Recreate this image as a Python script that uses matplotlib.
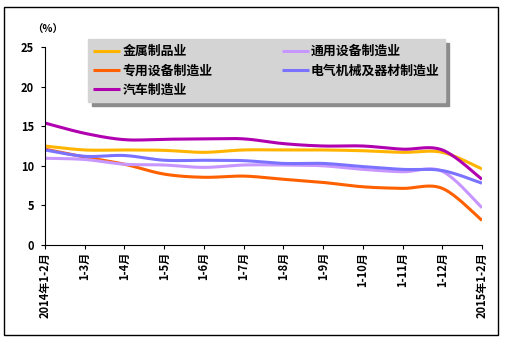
import numpy as np
import matplotlib
matplotlib.use("Agg")
import matplotlib.pyplot as plt
from matplotlib.patches import Rectangle

plt.rcParams['font.family'] = ['Noto Sans CJK SC', 'DejaVu Sans']

months = ['2014年1-2月', '1-3月', '1-4月', '1-5月', '1-6月', '1-7月',
          '1-8月', '1-9月', '1-10月', '1-11月', '1-12月', '2015年1-2月']

metal = [12.5, 12.0, 12.0, 11.95, 11.7, 12.0, 12.0, 12.0, 11.9, 11.7, 11.7, 9.6]
general = [10.95, 10.8, 10.2, 10.1, 9.8, 10.1, 10.1, 10.0, 9.55, 9.25, 9.3, 4.7]
special = [12.1, 11.1, 10.2, 8.95, 8.55, 8.7, 8.3, 7.9, 7.35, 7.15, 7.15, 3.1]
electric = [12.0, 11.2, 11.3, 10.7, 10.7, 10.65, 10.3, 10.3, 9.9, 9.55, 9.4, 7.8]
auto = [15.4, 14.1, 13.3, 13.35, 13.4, 13.4, 12.8, 12.5, 12.5, 12.1, 12.0, 8.3]

series = [
    ('金属制品业', metal, '#FFB400'),
    ('专用设备制造业', special, '#FF6000'),
    ('汽车制造业', auto, '#B000B0'),
    ('通用设备制造业', general, '#C896FF'),
    ('电气机械及器材制造业', electric, '#7B73FF'),
]


def smooth(y, n=20):
    # catmull-rom style smoothing like office charts
    y = np.asarray(y, float)
    x = np.arange(len(y), dtype=float)
    px = np.concatenate([[x[0]], x, [x[-1]]])
    py = np.concatenate([[y[0]], y, [y[-1]]])
    xs, ys = [], []
    for i in range(1, len(px) - 2):
        p0, p1, p2, p3 = py[i - 1], py[i], py[i + 1], py[i + 2]
        q0, q1, q2, q3 = px[i - 1], px[i], px[i + 1], px[i + 2]
        t = np.linspace(0, 1, n, endpoint=False)
        c1y = p1 + (p2 - p0) / 6
        c2y = p2 - (p3 - p1) / 6
        c1x = q1 + (q2 - q0) / 6
        c2x = q2 - (q3 - q1) / 6
        b = lambda a, b1, b2, c: ((1 - t) ** 3 * a + 3 * (1 - t) ** 2 * t * b1
                                  + 3 * (1 - t) * t ** 2 * b2 + t ** 3 * c)
        xs.append(b(q1, c1x, c2x, q2))
        ys.append(b(p1, c1y, c2y, p2))
    xs.append([x[-1]])
    ys.append([y[-1]])
    return np.concatenate(xs), np.concatenate(ys)


fig = plt.figure(figsize=(5.05, 3.4), dpi=100)
ax = fig.add_axes([45 / 505, 1 - 245 / 340, 437 / 505, 198 / 340])

for name, vals, col in series:
    sx, sy = smooth(vals)
    ax.plot(sx, sy, color=col, linewidth=2.2, label=name, solid_capstyle='butt')

ax.set_xlim(0, len(months) - 1)
ax.set_ylim(0, 25)
ax.set_yticks([0, 5, 10, 15, 20, 25])
ax.set_xticks(range(len(months)))
ax.set_xticklabels(months, rotation=90, fontsize=8, fontweight='bold')
for lab in ax.get_yticklabels():
    lab.set_fontsize(8)
    lab.set_fontweight('bold')
ax.spines['top'].set_visible(False)
ax.spines['right'].set_visible(False)
ax.spines['left'].set_linewidth(0.8)
ax.spines['bottom'].set_linewidth(0.8)
ax.tick_params(axis='both', direction='out', length=3, width=0.8, pad=2)
ax.tick_params(axis='y', pad=5)

fig.text(48 / 505, 1 - 30 / 340, '（%）', fontsize=7.5, fontweight='bold',
         ha='center', va='center')

leg = ax.legend(loc='upper left', ncol=2, bbox_to_anchor=(88 / 505, 1 - 39 / 340, 357 / 505, 0),
                bbox_transform=fig.transFigure, mode='expand', frameon=True, fancybox=False,
                shadow={'color': '#8C8C8C', 'alpha': 1, 'ox': 3, 'oy': -3},
                prop={'size': 9.3, 'weight': 'bold'},
                handlelength=2.1, handletextpad=0.15, labelspacing=0.42, borderaxespad=0,
                borderpad=0.4, columnspacing=2)
leg.get_frame().set_facecolor('#D4D4D4')
leg.get_frame().set_edgecolor('#D4D4D4')

fig.patches.append(Rectangle((4 / 505, 1 - 335 / 340), 494 / 505, 328 / 340,
                             transform=fig.transFigure, fill=False,
                             edgecolor='black', linewidth=1))

fig.savefig('out.png', dpi=100)
